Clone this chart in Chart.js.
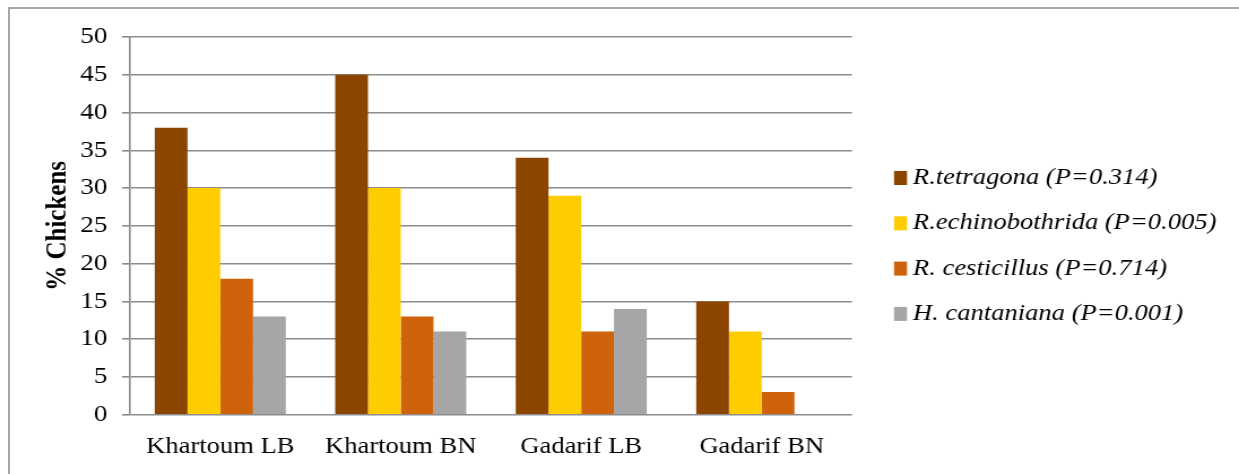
<!DOCTYPE html>
<html>
<head>
<meta charset="utf-8">
<script src="https://cdn.jsdelivr.net/npm/chart.js@4/dist/chart.umd.min.js"></script>
<style>
  html, body { margin: 0; padding: 0; background: #fff; overflow: hidden; width: 1239px; height: 474px; }
  #frame { position: absolute; left: 8px; top: 7px; width: 1400px; height: 600px;
           border-left: 2px solid #a6a6a6; border-top: 2px solid #a6a6a6; }
  #wrap { position: absolute; left: 0; top: 0; width: 1096px; height: 474px;
          transform: scaleX(1.1305); transform-origin: 0 0; }
</style>
</head>
<body>
<div id="frame"></div>
<div id="wrap"><canvas id="chart" width="1096" height="474"></canvas></div>
<script>
// Prevalence (% of chickens infected) by region and bird type
const categories = ['Khartoum LB', 'Khartoum BN', 'Gadarif LB', 'Gadarif BN'];
const seriesNames = [
  'R.tetragona (P=0.314)',
  'R.echinobothrida (P=0.005)',
  'R. cesticillus (P=0.714)',
  'H. cantaniana (P=0.001)'
];
const tetragona      = [38, 45, 34, 15];
const echinobothrida = [30, 30, 29, 11];
const cesticillus    = [18, 13, 11, 3];
const cantaniana     = [13, 11, 14, 0];
const yTicks = [0, 5, 10, 15, 20, 25, 30, 35, 40, 45, 50];

const colors = ['#8b4500', '#ffcc00', '#cf630b', '#a6a6a6'];
const serif = '"Liberation Serif", "Times New Roman", serif';

// Legend drawn on the right, one row per dataset
const sideLegend = {
  id: 'sideLegend',
  afterDraw(chart) {
    const ctx = chart.ctx;
    const boxX = 790.8, textX = 807.6, firstRow = 178, rowStep = 45.3;
    ctx.save();
    ctx.font = 'italic 23.5px ' + serif;
    ctx.textBaseline = 'middle';
    ctx.textAlign = 'left';
    chart.data.datasets.forEach((ds, i) => {
      const y = firstRow + i * rowStep;
      ctx.fillStyle = ds.backgroundColor;
      ctx.fillRect(boxX, y - 7, 11.5, 14);
      ctx.fillStyle = '#000';
      ctx.fillText(ds.label, textX, y);
    });
    ctx.restore();
  }
};

const seriesValues = [tetragona, echinobothrida, cesticillus, cantaniana];

new Chart(document.getElementById('chart'), {
  type: 'bar',
  data: {
    labels: categories,
    datasets: seriesValues.map((vals, i) => ({
      label: seriesNames[i],
      data: vals,
      backgroundColor: colors[i],
      borderWidth: 0,
      categoryPercentage: 0.726,
      barPercentage: 1.0
    }))
  },
  options: {
    responsive: false,
    devicePixelRatio: 1,
    animation: false,
    layout: { padding: { top: 37, left: 0, right: 342.4, bottom: 0 } },
    plugins: {
      legend: { display: false },
      tooltip: { enabled: false }
    },
    scales: {
      x: {
        grid: { display: false, drawTicks: false },
        border: { display: false },
        ticks: {
          color: '#000',
          font: { family: serif, size: 23.5 },
          padding: 18,
          maxRotation: 0,
          autoSkip: false
        },
        afterFit(scale) { scale.height = 59.3; }
      },
      y: {
        min: 0,
        max: 50,
        afterBuildTicks(scale) { scale.ticks = yTicks.map(v => ({ value: v })); },
        ticks: {
          color: '#000',
          font: { family: serif, size: 24 },
          padding: 13
        },
        grid: { color: '#8c8c8c', lineWidth: 1.6, tickLength: 7 },
        border: { color: '#8c8c8c', width: 1.6 },
        title: {
          display: true,
          text: '% Chickens',
          color: '#000',
          font: { family: serif, size: 25, weight: 'bold' },
          padding: { top: 36.3, bottom: 0 }
        },
        afterFit(scale) { scale.width = 115; }
      }
    }
  },
  plugins: [sideLegend]
});
</script>
</body>
</html>
